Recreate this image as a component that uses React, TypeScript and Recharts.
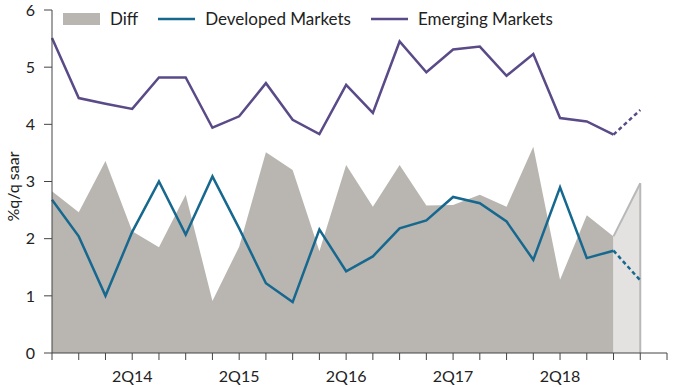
import React from 'react';
import {
  ComposedChart, Area, Line, XAxis, YAxis, Legend, ReferenceLine,
} from 'recharts';

const categories = ['3Q13','4Q13','1Q14','2Q14','3Q14','4Q14','1Q15','2Q15','3Q15','4Q15','1Q16','2Q16','3Q16','4Q16','1Q17','2Q17','3Q17','4Q17','1Q18','2Q18','3Q18','4Q18','1Q19','2Q19'];
const tickLabels = ['2Q14','2Q15','2Q16','2Q17','2Q18'];
const emerging = [5.51,4.46,4.36,4.27,4.82,4.82,3.94,4.14,4.72,4.08,3.83,4.69,4.20,5.45,4.91,5.31,5.36,4.85,5.23,4.11,4.05,3.82,4.25,null];
const developed = [2.68,2.04,1.00,2.12,3.00,2.07,3.09,2.18,1.22,0.89,2.16,1.43,1.69,2.18,2.32,2.73,2.62,2.30,1.63,2.90,1.66,1.79,1.27,null];
const diff = [2.83,2.46,3.36,2.13,1.85,2.77,0.91,1.86,3.51,3.20,1.78,3.29,2.56,3.29,2.58,2.59,2.77,2.56,3.61,1.28,2.41,2.04,2.97,null];
const lastActual = 21; // 4Q18: forecast segment follows
const yTicks = [0,1,2,3,4,5,6];

const EM = '#5a4a88';
const DM = '#16688f';
const GRAY = '#b9b6b2';
const LIGHT = '#e3e2e1';
const FONT = 'Lato, "Open Sans", sans-serif';

const data = categories.map((c, i) => ({
  cat: c,
  diffA: i <= lastActual ? diff[i] : null,
  diffF: i >= lastActual ? diff[i] : null,
  dmA: i <= lastActual ? developed[i] : null,
  dmF: i >= lastActual ? developed[i] : null,
  emA: i <= lastActual ? emerging[i] : null,
  emF: i >= lastActual ? emerging[i] : null,
}));

const legendItems = [
  { name: 'Diff', type: 'rect', color: GRAY },
  { name: 'Developed Markets', type: 'line', color: DM },
  { name: 'Emerging Markets', type: 'line', color: EM },
];

const LegendContent = () => (
  <div style={{ display: 'flex', alignItems: 'center', fontFamily: FONT, fontSize: 17, color: '#222' }}>
    {legendItems.map((it) => (
      <div key={it.name} style={{ display: 'flex', alignItems: 'center', marginRight: 20 }}>
        <svg width={37} height={12} style={{ marginRight: 10 }}>
          {it.type === 'rect'
            ? <rect x={0} y={0} width={37} height={12} fill={it.color} />
            : <line x1={0} x2={37} y1={6} y2={6} stroke={it.color} strokeWidth={2.5} />}
        </svg>
        <span>{it.name}</span>
      </div>
    ))}
  </div>
);

const YLabel = (props: any) => {
  const vb = props.viewBox || {};
  const cx = 12;
  const cy = (vb.y ?? 10) + (vb.height ?? 343) / 2 + 5;
  return (
    <text x={cx} y={cy} transform={`rotate(-90 ${cx} ${cy})`} textAnchor="middle" dominantBaseline="central"
      fontFamily={FONT} fontSize={16} fill="#222">%q/q saar</text>
  );
};

export default function App() {
  return (
    <div style={{ position: 'absolute', left: 0, top: 0, width: 680, height: 387, background: '#fff' }}>
      <ComposedChart width={680} height={387} data={data}
        margin={{ top: 10, right: 13, left: 0, bottom: 0 }}
        style={{ fontFamily: FONT }}>
        <XAxis dataKey="cat" scale="point" padding={{ left: 0, right: 0 }} interval={0}
          tickFormatter={(v: string) => (tickLabels.includes(v) ? v : '')}
          tick={{ fill: '#222', fontSize: 16, fontFamily: FONT }}
          tickSize={7} tickMargin={11} height={34}
          axisLine={{ stroke: '#444' }} tickLine={{ stroke: '#444' }} />
        <YAxis domain={[0, 6]} ticks={yTicks} width={52} tickSize={8} tickMargin={9}
          tick={{ fill: '#222', fontSize: 16, fontFamily: FONT }}
          axisLine={{ stroke: '#444' }} tickLine={{ stroke: '#444' }}
          label={<YLabel />} />
        <Legend layout="horizontal" verticalAlign="middle" align="center"
          wrapperStyle={{ top: 8, left: 63, width: 'auto' }} content={<LegendContent />} />
        <Area dataKey="diffA" type="linear" fill={GRAY} fillOpacity={1} stroke="none"
          isAnimationActive={false} connectNulls={false} />
        <Area dataKey="diffF" type="linear" fill={LIGHT} fillOpacity={1} stroke="#b8b8b8" strokeWidth={2}
          isAnimationActive={false} connectNulls={false} />
        <ReferenceLine segment={[{ x: categories[lastActual + 1], y: 0 }, { x: categories[lastActual + 1], y: diff[lastActual + 1] as number }]}
          stroke="#b8b8b8" strokeWidth={2} />
        <Line dataKey="dmA" type="linear" stroke={DM} strokeWidth={2.5} dot={false} isAnimationActive={false} />
        <Line dataKey="dmF" type="linear" stroke={DM} strokeWidth={2.5} strokeDasharray="4 3" dot={false} isAnimationActive={false} />
        <Line dataKey="emA" type="linear" stroke={EM} strokeWidth={2.5} dot={false} isAnimationActive={false} />
        <Line dataKey="emF" type="linear" stroke={EM} strokeWidth={2.5} strokeDasharray="4 3" dot={false} isAnimationActive={false} />
      </ComposedChart>
    </div>
  );
}
